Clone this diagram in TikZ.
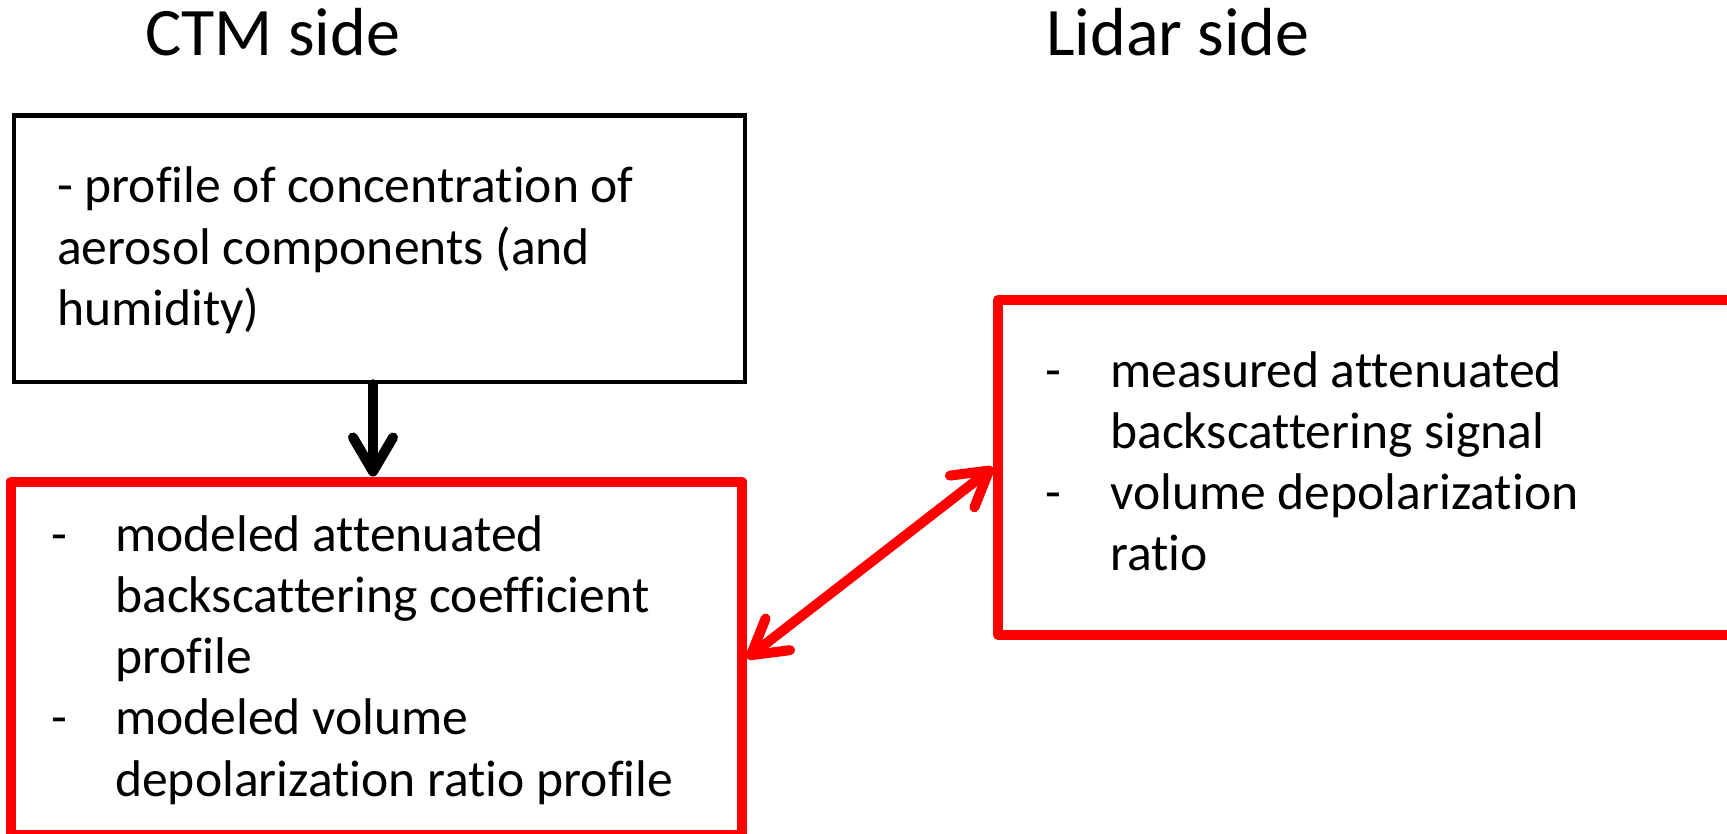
\documentclass[tikz,border=0pt]{standalone}
\usepackage{fontspec}
\setmainfont{Carlito}[Ligatures={NoCommon,NoContextual}]
\usetikzlibrary{arrows.meta}
\definecolor{boxred}{RGB}{255,0,0}
\tikzset{
  title/.style={anchor=base west,inner sep=0pt,font=\fontsize{68}{81}\selectfont},
  body/.style={anchor=base west,inner sep=0pt,font=\fontsize{51.6}{61}\selectfont},
  blackbox/.style={draw=black,line width=4.5pt,line join=miter,rectangle,inner sep=0pt},
  redbox/.style={draw=boxred,line width=10pt,line join=round,rectangle,inner sep=0pt},
  barb/.style={-{Straight Barb[length=34pt,width=40pt,line cap=round,line join=round]},line cap=round},
  dbarb/.style={{Straight Barb[length=34pt,width=40pt,line cap=round,line join=round]}-{Straight Barb[length=34pt,width=40pt,line cap=round,line join=round]},line cap=round},
}
\begin{document}
\begin{tikzpicture}[x=1pt,y=-1pt]
\useasboundingbox (0,0) rectangle (1727,834);
\begin{scope}
\clip (0,0) rectangle (1727,834);
% titles
\node[title] (ctmtitle) at (145,56) {CTM side};
\node[title] (lidartitle) at (1046,56) {Lidar side};
% boxes
\node[blackbox,minimum width=731pt,minimum height=266.5pt] (ctm) at (379.5,248.75) {};
\node[redbox,minimum width=731pt,minimum height=353.5pt] (model) at (376.5,658.25) {};
\node[redbox,minimum width=734pt,minimum height=335pt] (lidar) at (1365,467.5) {};
% top box text
\node[body] (t1) at (57,203) {- profile of concentration of};
\node[body] (t2) at (57,264.5) {aerosol components (and};
\node[body] (t3) at (57,326) {humidity)};
% model box text
\node[body] (md1) at (51,551) {-};
\node[body] (m1) at (115,551) {modeled attenuated};
\node[body] (m2) at (115,612.3) {backscattering coefficient};
\node[body] (m3) at (115,673.6) {profile};
\node[body] (md2) at (51,734.9) {-};
\node[body] (m4) at (115,734.9) {modeled volume};
\node[body] (m5) at (115,796.2) {depolarization ratio profile};
% lidar box text
\node[body] (ld1) at (1045,387) {-};
\node[body] (l1) at (1110,387) {measured attenuated};
\node[body] (l2) at (1110,448.3) {backscattering signal};
\node[body] (ld2) at (1045,509.6) {-};
\node[body] (l3) at (1110,509.6) {volume depolarization};
\node[body] (l4) at (1110,570.9) {ratio};
% connectors
\coordinate (ax) at (373,0);
\draw[barb,line width=10pt,black] (ctm.south -| ax) -- (model.north -| ax);
\draw[dbarb,line width=10pt,boxred] (model.east) -- (lidar.west);
\end{scope}
\end{tikzpicture}
\end{document}
